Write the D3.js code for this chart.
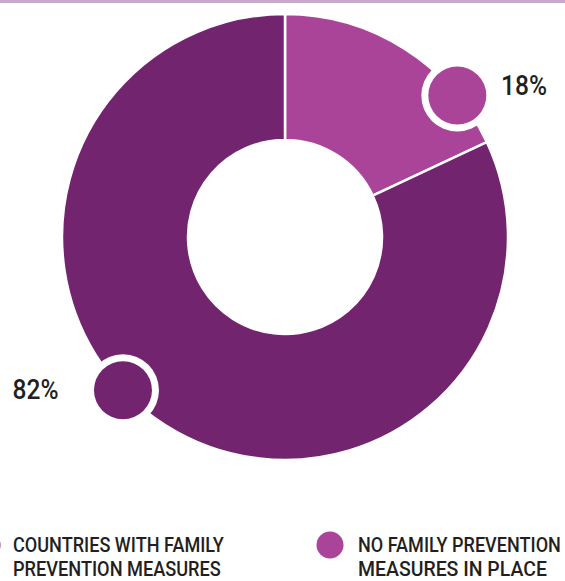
<!DOCTYPE html>
<html>
<head>
<meta charset="utf-8">
<script src="https://cdn.jsdelivr.net/npm/d3@7"></script>
<style>
  html, body { margin: 0; padding: 0; background: #ffffff; }
  svg { display: block; }
  text { font-family: "Liberation Sans Narrow", Roboto, "Liberation Sans", sans-serif; fill: #231f20; }
</style>
</head>
<body>
<svg id="chart" width="565" height="581"></svg>
<script>
// Share of countries by family prevention measures (percent)
const categories = ["COUNTRIES WITH FAMILY PREVENTION MEASURES", "NO FAMILY PREVENTION MEASURES IN PLACE"];
const legendLines = [["COUNTRIES WITH FAMILY", "PREVENTION MEASURES"], ["NO FAMILY PREVENTION", "MEASURES IN PLACE"]];
const values = [82, 18];
const valueLabels = ["82%", "18%"];
const colors = ["#73246f", "#a94499"];

const svg = d3.select("#chart");
const W = 565, H = 581;
const cx = 285, cy = 237, rOuter = 223, rInner = 97;

// condensed text: set at a normal face, then squeezed horizontally to a target width
function condensedText(parent, str, x, y, size, width, anchor) {
  const t = parent.append("text")
    .attr("font-size", size)
    .attr("font-weight", 500)
    .text(str);
  const natural = t.node().getComputedTextLength();
  const sx = width / natural;
  const left = anchor === "middle" ? x - width / 2 : x;
  t.attr("transform", `translate(${left},${y}) scale(${sx},1)`);
  return t;
}

// header rule
svg.append("rect").attr("x", 0).attr("y", 0).attr("width", W).attr("height", 3).attr("fill", "#c9a9cb");

const color = d3.scaleOrdinal().domain(categories).range(colors);

// the smaller share is drawn first, clockwise from 12 o'clock
const order = [1, 0];
const pie = d3.pie().sort(null).value(i => values[i]);
const arcs = pie(order);
const arc = d3.arc().innerRadius(rInner).outerRadius(rOuter);

const g = svg.append("g").attr("transform", `translate(${cx},${cy})`);
g.selectAll("path.slice").data(arcs).join("path")
  .attr("class", "slice")
  .attr("d", arc)
  .attr("fill", d => color(categories[d.data]))
  .attr("stroke", "#ffffff")
  .attr("stroke-width", 2.5);

// callout markers sitting on the outer rim, with value labels beside them
const markerAngle = { 1: 50.6, 0: 226.6 };
const labelPos = { 1: { x: 524, y: 95, len: 46 }, 0: { x: 35.5, y: 399, len: 46 } };
arcs.forEach(d => {
  const i = d.data;
  const a = markerAngle[i] * Math.PI / 180;
  const mx = cx + rOuter * Math.sin(a);
  const my = cy - rOuter * Math.cos(a);
  svg.append("circle").attr("cx", mx).attr("cy", my).attr("r", 36).attr("fill", "#ffffff");
  svg.append("circle").attr("cx", mx).attr("cy", my).attr("r", 29).attr("fill", color(categories[i]));
  const lp = labelPos[i];
  condensedText(svg, valueLabels[i], lp.x, lp.y, 27, lp.len, "middle");
});

// legend
const legendItems = [
  { i: 0, dotX: -13, textX: 13, lens: [211, 208] },
  { i: 1, dotX: 330, textX: 358, lens: [203, 189] }
];
legendItems.forEach(L => {
  svg.append("circle").attr("cx", L.dotX).attr("cy", 545).attr("r", 13.5).attr("fill", color(categories[L.i]));
  legendLines[L.i].forEach((line, k) => {
    condensedText(svg, line, L.textX, 551.5 + k * 24.6, 21, L.lens[k], "start");
  });
});
</script>
</body>
</html>
